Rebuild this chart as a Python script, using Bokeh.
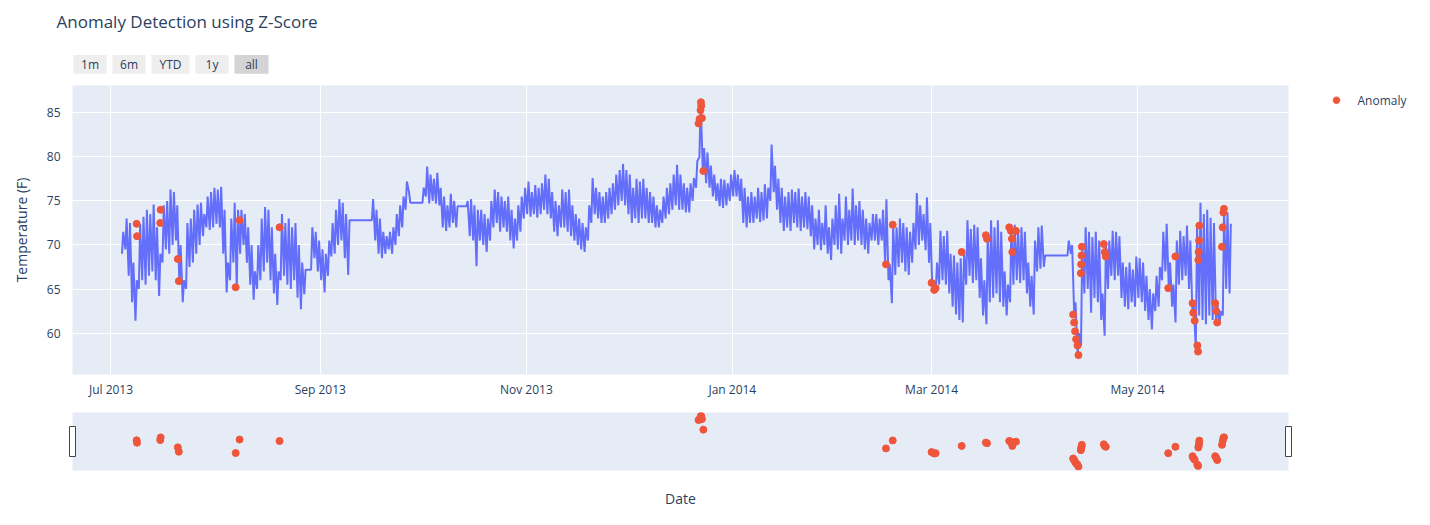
import math
import datetime as dt
from bokeh.plotting import figure
from bokeh.models import Range1d, FixedTicker, DatetimeTickFormatter
from bokeh.layouts import column
from bokeh.embed import file_html
from bokeh.resources import INLINE
from bokeh.core.properties import value

# ---------------- data ----------------
TITLE = "Anomaly Detection using Z-Score"
BUTTONS = ["1m", "6m", "YTD", "1y", "all"]
Y_LABEL = "Temperature (F)"
X_LABEL = "Date"
LEGEND_LABEL = "Anomaly"

START_DATE = "2013-07-04"   # first day of the daily arrays
# daily low (morning) / daily high (afternoon) temperatures, None = no reading
daily_low = [
    69.0, 69.5, 66.5, 63.5, 61.4, 65.0, 66.0, 65.5, 66.5, 67.0,   # Jul 4-13
    66.0, 64.2, 68.0, 69.5, 69.0, 70.0, 70.5, 65.5, 63.5, 65.0,   # Jul 14-23
    67.5, 68.0, 69.0, 70.0, 71.0, 72.0, 71.7, 72.0, 72.4, 72.0,   # Jul 24-Aug 2
    69.0, 64.6, 66.0, 68.0, 65.2, 69.0, 70.0, 68.0, 65.5, 63.8,   # Aug 3-12
    65.0, 66.0, 67.0, 68.0, 66.0, 64.5, 63.2, 66.0, 66.5, 65.5,   # Aug 13-22
    65.0, 66.0, 64.0, 62.7, 64.4, None, 67.2, 68.5, 67.0, 66.0,   # Aug 23-Sep 1
    64.6, 66.5, 68.7, 69.0, 70.0, 70.5, 68.5, 66.6, None, None,   # Sep 2-11
    None, None, None, None, 72.8, 70.5, 69.0, 68.5, 69.0, 69.5,   # Sep 12-21
    69.0, 70.0, 71.0, 72.0, 74.0, 76.0, None, None, None, 74.8,   # Sep 22-Oct 1
    75.5, 74.7, 75.0, 74.7, 74.5, 72.0, 71.6, 72.0, 72.5, 72.0,   # Oct 2-11
    None, None, 74.4, 71.0, 70.5, 67.6, 70.5, 70.0, 69.2, 70.5,   # Oct 12-21
    72.0, 72.5, 71.5, 72.0, 71.5, 70.5, 69.6, 70.5, 71.5, 73.0,   # Oct 22-31
    73.5, 73.2, 73.5, 73.1, 73.5, 74.0, 73.5, 73.0, 71.5, 71.0,   # Nov 1-10
    72.0, 72.0, 71.5, 71.0, 70.5, 70.0, 69.5, 69.2, 70.5, 72.5,   # Nov 11-20
    73.5, 73.0, 72.5, 72.5, 73.0, 73.5, 74.0, 74.5, 75.0, 74.5,   # Nov 21-30
    73.5, 72.5, 73.0, 72.5, 73.0, 73.0, 72.5, 72.5, 72.0, 72.0,   # Dec 1-10
    72.5, 73.0, 73.5, 74.0, 74.5, 74.0, 74.0, 73.7, 73.7, 75.0,   # Dec 11-20
    76.5, 80.0, 78.4, 77.0, 76.5, 75.5, 75.0, 74.4, 74.2, 74.5,   # Dec 21-30
    75.0, 75.5, 75.5, 75.0, 72.5, 72.0, 72.5, 72.5, 73.0, 72.6,   # Dec 31-Jan 9
    72.8, 73.0, 75.0, 76.0, 74.0, 72.5, 71.6, 72.0, 71.6, 72.5,   # Jan 10-19
    72.0, 71.6, 72.0, 71.8, 71.0, 69.5, 70.0, 69.4, 70.0, 69.0,   # Jan 20-29
    68.3, 70.0, 69.5, 69.0, 70.5, 70.0, 70.5, 70.0, 70.5, 70.0,   # Jan 30-Feb 8
    69.5, 69.0, 70.5, 70.5, 70.0, 70.5, 68.0, 66.0, 63.4, 66.6,   # Feb 9-18
    67.5, 68.0, 67.0, 66.6, 68.0, 69.5, 70.0, 70.5, 69.4, 68.0,   # Feb 19-28
    64.7, 64.9, 65.5, 66.0, 65.5, 64.5, 63.0, 62.1, 61.5, 61.2,   # Mar 1-10
    65.5, 66.5, 65.7, 66.0, 64.0, 62.0, 61.0, 63.5, 64.0, 64.5,   # Mar 11-20
    63.5, 63.0, 62.0, 63.5, 65.5, 66.0, 65.7, 66.0, 64.5, 63.0,   # Mar 21-30
    62.1, 67.0, 67.3, 67.5, None, None, None, None, None, None,   # Mar 31-Apr 9
    68.8, 69.0, 62.0, 57.5, 58.5, 64.5, 65.0, 62.3, 64.0, 63.5,   # Apr 10-19
    61.5, 59.7, 65.0, 66.5, 66.0, 66.5, 64.0, 63.0, 62.7, 63.5,   # Apr 20-29
    63.0, 64.0, 63.5, 62.5, 61.5, 60.4, 62.5, 63.0, 66.0, 67.0,   # Apr 30-May 9
    65.1, 63.0, 61.2, 65.5, 66.0, 66.5, 65.0, 62.3, 58.2, 62.0,   # May 10-19
    61.5, 61.0, 62.0, 61.5, 61.2, 61.0, 62.0, 65.0, 64.5,         # May 20-28
]
daily_high = [
    71.5, 73.0, 72.5, 68.0, 66.0, 72.4, 73.2, 74.0, 73.5, 74.6,
    72.0, 69.0, 74.5, 75.0, 76.3, 76.0, 74.5, 70.0, 66.0, 72.5,
    73.0, 74.0, 74.6, 74.8, 73.5, 75.5, 76.0, 76.5, 76.3, 76.6,
    74.0, 68.0, 73.0, 74.8, 74.0, 74.0, 73.5, 72.0, 70.0, 67.0,
    70.0, 73.0, 74.3, 74.0, 72.0, 69.0, 67.0, 73.5, 72.5, 73.0,
    72.0, 72.5, 70.0, 68.0, 67.2, None, 72.0, 71.5, 70.5, 69.5,
    69.0, 70.5, 72.5, 74.0, 75.2, 74.8, 73.5, 72.8, None, None,
    None, None, None, None, 75.2, 74.0, 73.0, 71.5, 71.0, 71.5,
    72.0, 73.5, 74.5, 75.5, 77.2, 74.8, None, None, None, 76.5,
    78.9, 78.0, 77.5, 78.2, 76.5, 75.5, 74.5, 75.8, 75.0, 74.4,
    None, None, 75.0, 75.2, 74.5, 74.0, 74.0, 73.5, 73.0, 75.0,
    76.3, 76.0, 75.5, 75.0, 75.5, 74.0, 73.0, 74.5, 75.5, 76.5,
    77.2, 76.0, 76.8, 76.5, 77.0, 78.0, 77.5, 76.0, 75.0, 74.5,
    76.3, 76.0, 76.3, 74.5, 73.5, 73.0, 72.5, 72.0, 74.5, 77.6,
    76.5, 76.0, 75.5, 76.0, 76.5, 77.0, 78.0, 78.5, 79.2, 78.5,
    78.0, 76.5, 77.5, 77.2, 77.5, 76.5, 76.0, 75.5, 74.5, 74.0,
    75.5, 76.5, 77.0, 78.0, 79.1, 78.0, 77.0, 76.5, 77.0, 77.6,
    79.5, 86.2, 81.0, 80.5, 79.0, 78.0, 77.0, 77.5, 77.4, 77.0,
    78.0, 78.5, 78.0, 77.5, 76.5, 75.5, 76.0, 75.5, 76.5, 76.0,
    76.9, 76.5, 81.4, 79.0, 77.5, 76.5, 75.5, 76.0, 76.3, 76.0,
    76.4, 75.5, 76.0, 75.5, 74.5, 73.0, 74.0, 72.5, 74.5, 72.0,
    73.0, 74.5, 75.8, 73.0, 75.5, 74.0, 76.4, 74.5, 75.0, 74.0,
    73.0, 72.5, 73.5, 73.5, 73.0, 74.0, 75.2, 67.8, 72.3, 72.0,
    73.0, 72.5, 72.0, 71.5, 72.5, 75.9, 74.5, 73.5, 75.4, 72.5,
    66.0, 68.0, 71.6, 71.0, 71.6, 69.0, 68.8, 68.0, 68.5, 69.2,
    72.8, 71.8, 72.3, 72.0, 68.5, 66.0, 71.1, 72.8, 72.0, 72.8,
    71.5, 67.0, 65.5, 72.0, 72.3, 71.6, 72.0, 71.5, 68.0, 66.5,
    70.5, 72.0, 72.2, 68.8, None, None, None, None, None, None,
    70.5, 70.0, 63.5, 60.0, 69.8, 72.0, 71.5, 70.9, 71.5, 70.5,
    64.5, 70.1, 70.5, 71.6, 71.5, 71.0, 68.0, 67.5, 68.0, 67.2,
    68.7, 68.5, 68.0, 66.5, 65.0, 64.5, 66.5, 67.5, 71.5, 72.4,
    68.0, 65.5, 70.5, 71.6, 71.0, 72.2, 70.5, 63.4, 72.2, 74.8,
    73.5, 74.0, 73.1, 72.5, 63.4, 62.5, 74.1, 73.7, 72.4,
]

anomaly_times = [
    "2013-07-08 14:00", "2013-07-08 17:00", "2013-07-15 14:00", "2013-07-15 17:00",
    "2013-07-20 19:00", "2013-07-21 02:00", "2013-08-06 22:00", "2013-08-08 02:00",
    "2013-08-19 22:00",
    "2013-12-22 00:00", "2013-12-22 07:00", "2013-12-22 14:00", "2013-12-22 17:00",
    "2013-12-22 19:00", "2013-12-23 00:00", "2013-12-23 10:00",
    "2014-02-15 12:00", "2014-02-17 12:00",
    "2014-03-01 00:00", "2014-03-01 19:00", "2014-03-02 05:00", "2014-03-09 22:00",
    "2014-03-17 02:00", "2014-03-17 10:00", "2014-03-24 00:00", "2014-03-24 12:00",
    "2014-03-24 19:00", "2014-03-24 22:00", "2014-03-26 00:00",
    "2014-04-11 22:00", "2014-04-12 05:00", "2014-04-12 12:00", "2014-04-12 19:00",
    "2014-04-13 05:00", "2014-04-13 12:00", "2014-04-14 05:00", "2014-04-14 07:00",
    "2014-04-14 10:00", "2014-04-14 12:00", "2014-04-21 00:00", "2014-04-21 07:00",
    "2014-04-21 14:00",
    "2014-05-10 02:00", "2014-05-12 05:00", "2014-05-17 07:00", "2014-05-17 12:00",
    "2014-05-17 22:00", "2014-05-18 17:00", "2014-05-18 22:00", "2014-05-19 00:00",
    "2014-05-19 02:00", "2014-05-19 05:00", "2014-05-19 07:00", "2014-05-24 00:00",
    "2014-05-24 07:00", "2014-05-24 14:00", "2014-05-26 00:00", "2014-05-26 05:00",
    "2014-05-26 10:00", "2014-05-26 14:00",
]
anomaly_values = [
    72.4, 71.0, 72.5, 74.0,
    68.4, 65.9, 65.2, 72.8,
    72.0,
    83.8, 84.3, 85.3, 86.2,
    85.8, 84.4, 78.4,
    67.8, 72.3,
    65.7, 64.9, 65.1, 69.2,
    71.1, 70.7, 72.0, 71.6,
    70.7, 69.2, 71.6,
    62.1, 61.2, 60.2, 59.3,
    58.6, 57.5, 66.8, 67.8,
    68.8, 69.8, 70.1, 69.2,
    68.7,
    65.1, 68.7, 63.4, 62.3,
    61.4, 58.6, 57.9, 68.3,
    69.2, 70.5, 72.2, 63.4,
    62.5, 61.2, 69.8, 72.0,
    73.7, 74.1,
]

x_tick_dates = ["2013-07-01", "2013-09-01", "2013-11-01", "2014-01-01", "2014-03-01", "2014-05-01"]
x_tick_labels = ["Jul 2013", "Sep 2013", "Nov 2013", "Jan 2014", "Mar 2014", "May 2014"]
y_ticks = [60, 65, 70, 75, 80, 85]

# ---------------- styling / layout constants ----------------
FONT = "Open Sans"
TXT = "#2a3f5f"
PLOT_BG = "#E5ECF6"
LINE_COLOR = "#636EFA"
DOT_COLOR = "#EF553B"

X_START = dt.datetime(2013, 6, 19, 14, 24)
X_END = dt.datetime(2014, 6, 14, 16, 48)
Y_START, Y_END = 55.3, 88.1

W = 1422
BL, BR = 72, 134          # left / right borders around the plotting frames
TOP = 85                  # space above the main frame
FRAME_W, FRAME_H = W - BL - BR, 293

def fx(px):
    """x position given in pixels from the frame's left edge"""
    return X_START + (X_END - X_START) * (px / FRAME_W)

def fy(py):
    """y position given in pixels above the frame's bottom edge"""
    return Y_START + (Y_END - Y_START) * (py / FRAME_H)

# ---------------- build series ----------------
start = dt.datetime.fromisoformat(START_DATE)
times, temps = [], []
for i, (lo, hi) in enumerate(zip(daily_low, daily_high)):
    day = start + dt.timedelta(days=i)
    if lo is not None:
        times.append(day + dt.timedelta(hours=6))
        temps.append(lo)
    if hi is not None:
        times.append(day + dt.timedelta(hours=15))
        temps.append(hi)

an_times = [dt.datetime.fromisoformat(t) for t in anomaly_times]
EPOCH = dt.datetime(1970, 1, 1)
tick_ms = [(dt.datetime.fromisoformat(d) - EPOCH).total_seconds() * 1000.0 for d in x_tick_dates]

# ---------------- main chart ----------------
p = figure(width=W, height=TOP + FRAME_H + 22, x_axis_type="datetime",
           x_range=Range1d(X_START, X_END), y_range=Range1d(Y_START, Y_END),
           output_backend="svg", toolbar_location=None, title=None,
           min_border_left=BL, min_border_right=BR, min_border_top=TOP, min_border_bottom=22)
p.background_fill_color = PLOT_BG
p.border_fill_color = "white"
p.outline_line_color = None
p.grid.grid_line_color = "white"
p.grid.grid_line_width = 1
p.xaxis.ticker = FixedTicker(ticks=tick_ms)
p.xaxis.formatter = DatetimeTickFormatter(days="%b %Y", months="%b %Y", years="%b %Y")
p.xaxis.major_label_overrides = {t: lab for t, lab in zip(tick_ms, x_tick_labels)}
p.yaxis.ticker = FixedTicker(ticks=y_ticks)
for ax in (p.xaxis, p.yaxis):
    ax.axis_line_color = None
    ax.major_tick_line_color = None
    ax.minor_tick_line_color = None
    ax.major_label_text_font = FONT
    ax.major_label_text_font_size = "12px"
    ax.major_label_text_color = TXT
p.xaxis.major_label_standoff = 0
p.yaxis.major_label_standoff = 6
p.yaxis.axis_label = Y_LABEL
p.yaxis.axis_label_text_font = FONT
p.yaxis.axis_label_text_font_size = "14px"
p.yaxis.axis_label_text_font_style = "normal"
p.yaxis.axis_label_text_color = TXT
p.yaxis.axis_label_standoff = 13

p.line(times, temps, line_color=LINE_COLOR, line_width=2)
p.scatter(an_times, anomaly_values, size=7, fill_color=DOT_COLOR, line_color=DOT_COLOR)

# title and range-selector buttons, drawn above the frame
p.text(x=[fx(-16)], y=[fy(FRAME_H + 65)], text=[TITLE], text_font=value(FONT),
       text_font_size="17px", text_color=TXT, text_baseline="middle", text_align="left",
       level="overlay")
btn_px = [(1, 34), (40, 73), (79, 117), (123, 156), (162, 196)]
btn_fill = ["#d4d4d4" if b == "all" else "#eeeeee" for b in BUTTONS]
p.quad(left=[fx(a) for a, b in btn_px], right=[fx(b) for a, b in btn_px],
       top=[fy(FRAME_H + 31)] * len(BUTTONS), bottom=[fy(FRAME_H + 12)] * len(BUTTONS),
       fill_color=btn_fill, line_color=None, level="overlay")
p.text(x=[fx((a + b) / 2) for a, b in btn_px], y=[fy(FRAME_H + 21.5)] * len(BUTTONS),
       text=BUTTONS, text_font=value(FONT), text_font_size="12px", text_color=TXT,
       text_align="center", text_baseline="middle", level="overlay")

# legend entry to the right of the frame: a small round marker and its label
LEG_CX, LEG_CY, LEG_R = FRAME_W + 48, FRAME_H - 15, 3.5
angles = [2 * math.pi * k / 24 for k in range(24)]
p.patch(x=[fx(LEG_CX + LEG_R * math.cos(a)) for a in angles],
        y=[fy(LEG_CY + LEG_R * math.sin(a)) for a in angles],
        fill_color=DOT_COLOR, line_color=DOT_COLOR, line_width=0.5, level="overlay")
p.text(x=[fx(FRAME_W + 69)], y=[fy(LEG_CY)], text=[LEGEND_LABEL],
       text_font=value(FONT), text_font_size="12px", text_color=TXT,
       text_align="left", text_baseline="middle", level="overlay")

# ---------------- range slider ----------------
s = figure(width=W, height=117, x_axis_type="datetime",
           x_range=Range1d(X_START, X_END), y_range=Range1d(Y_START, Y_END),
           output_backend="svg", toolbar_location=None, title=None,
           min_border_left=BL, min_border_right=BR, min_border_top=12, min_border_bottom=47,
           y_axis_location=None)
s.background_fill_color = PLOT_BG
s.border_fill_color = "white"
s.outline_line_color = None
s.grid.visible = False
s.scatter(an_times, anomaly_values, size=7, fill_color=DOT_COLOR, line_color=DOT_COLOR)
s.rect(x=[X_START, X_END], y=[(Y_START + Y_END) / 2] * 2, width=6, height=30,
       width_units="screen", height_units="screen",
       fill_color="white", line_color="#444444", line_width=1, level="overlay")
s.xaxis.ticker = FixedTicker(ticks=[])
s.xaxis.axis_line_color = None
s.xaxis.major_tick_line_color = None
s.xaxis.minor_tick_line_color = None
s.xaxis.axis_label = X_LABEL
s.xaxis.axis_label_text_font = FONT
s.xaxis.axis_label_text_font_size = "14px"
s.xaxis.axis_label_text_font_style = "normal"
s.xaxis.axis_label_text_color = TXT
s.xaxis.axis_label_standoff = 18

layout = column(p, s, spacing=0)
open("out.html", "w").write(file_html(layout, INLINE))
